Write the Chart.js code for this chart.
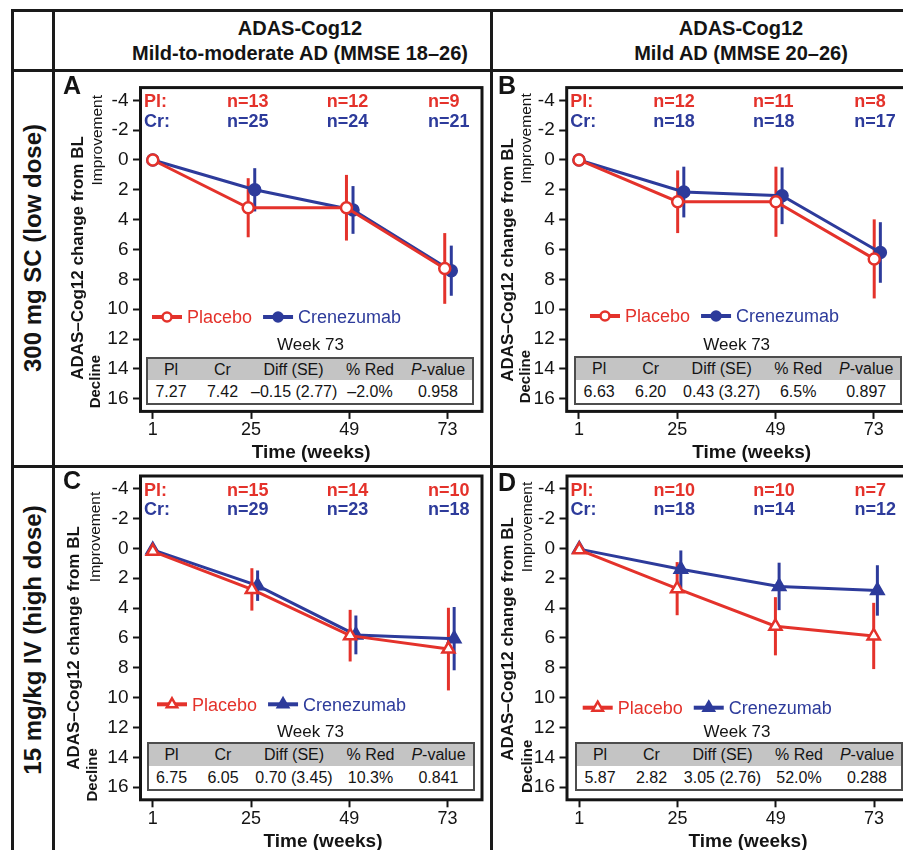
<!DOCTYPE html>
<html>
<head>
<meta charset="utf-8">
<script src="https://cdn.jsdelivr.net/npm/chart.js@4.4.1/dist/chart.umd.min.js"></script>
<style>
  html, body { margin: 0; padding: 0; background: #fff; }
  body { position: relative; width: 903px; height: 850px; overflow: hidden;
         font-family: "Liberation Sans", Arial, Helvetica, sans-serif; color: #141414; }
  .rule { position: absolute; background: #1a1a1a; }
  .hdr { position: absolute; top: 15.6px; width: 440px; text-align: center; font-weight: bold;
         font-size: 20px; line-height: 25px; white-space: nowrap; }
  .letter { position: absolute; font-weight: bold; font-size: 25px; line-height: 25px; }
  .rowlab { position: absolute; width: 400px; height: 24px; text-align: center; font-weight: bold;
            font-size: 24px; line-height: 24px; white-space: nowrap; transform: rotate(-90deg); }
  canvas { position: absolute; }
  .wk { position: absolute; width: 200px; text-align: center; font-size: 17px; line-height: 20px; }
  .stats { position: absolute; width: 324px; border: 2px solid #4d4d4d; font-size: 16px; background: #fff; }
  .stats div { display: flex; }
  .stats .head { background: #c4c4c4; height: 21.5px; line-height: 21.5px; }
  .stats .body { height: 23px; line-height: 23px; }
  .stats span { display: block; text-align: center; white-space: nowrap; }
</style>
</head>
<body>
<div class="rule" style="left:10.5px; top:9px; width:900px; height:3px"></div>
<div class="rule" style="left:10.5px; top:9px; width:3px; height:850px"></div>
<div class="rule" style="left:52px; top:9px; width:3px; height:850px"></div>
<div class="rule" style="left:489.5px; top:9px; width:3px; height:850px"></div>
<div class="rule" style="left:10.5px; top:68.5px; width:900px; height:3px"></div>
<div class="rule" style="left:10.5px; top:465.2px; width:900px; height:3px"></div>

<div class="hdr" style="left:80px">ADAS-Cog12<br>Mild-to-moderate AD (MMSE 18–26)</div>
<div class="hdr" style="left:521px">ADAS-Cog12<br>Mild AD (MMSE 20–26)</div>

<div class="rowlab" style="left:-166.6px; top:236px">300 mg SC (low dose)</div>
<div class="rowlab" style="left:-166.6px; top:628px">15 mg/kg IV (high dose)</div>

<script>
const RED = '#e4322b';
const BLUE = '#2d3b9b';
const INK = '#141414';
const FONT = '"Liberation Sans", Arial, Helvetica, sans-serif';

// visit weeks and axis ticks
const weeks = [1, 25, 49, 73];
const weekTicks = [1, 25, 49, 73];
const yTicks = [-4, -2, 0, 2, 4, 6, 8, 10, 12, 14, 16];

// A: 300 mg SC, mild-to-moderate AD
const placeboA = [0, 3.2, 3.2, 7.27];
const placeboSeA = [0, 1.98, 2.2, 2.37];
const crenezumabA = [0, 2.0, 3.35, 7.42];
const crenezumabSeA = [0, 1.45, 1.6, 1.68];
const nPlaceboA = [13, 12, 9];
const nCrenezumabA = [25, 24, 21];
const statsA = ['7.27', '7.42', '–0.15 (2.77)', '–2.0%', '0.958'];

// B: 300 mg SC, mild AD
const placeboB = [0, 2.8, 2.8, 6.63];
const placeboSeB = [0, 2.1, 2.35, 2.65];
const crenezumabB = [0, 2.15, 2.4, 6.20];
const crenezumabSeB = [0, 1.7, 1.9, 2.03];
const nPlaceboB = [12, 11, 8];
const nCrenezumabB = [18, 18, 17];
const statsB = ['6.63', '6.20', '0.43 (3.27)', '6.5%', '0.897'];

// C: 15 mg/kg IV, mild-to-moderate AD
const placeboC = [0.2, 2.75, 5.85, 6.75];
const placeboSeC = [0, 1.42, 1.73, 2.77];
const crenezumabC = [0.1, 2.5, 5.8, 6.05];
const crenezumabSeC = [0, 1.02, 1.3, 2.12];
const nPlaceboC = [15, 14, 10];
const nCrenezumabC = [29, 23, 18];
const statsC = ['6.75', '6.05', '0.70 (3.45)', '10.3%', '0.841'];

// D: 15 mg/kg IV, mild AD
const placeboD = [0.1, 2.7, 5.22, 5.87];
const placeboSeD = [0, 1.78, 1.95, 2.22];
const crenezumabD = [0.05, 1.4, 2.55, 2.82];
const crenezumabSeD = [0, 1.26, 1.59, 1.69];
const nPlaceboD = [10, 10, 7];
const nCrenezumabD = [18, 14, 12];
const statsD = ['5.87', '2.82', '3.05 (2.76)', '52.0%', '0.288'];

const statHeads = ['Pl', 'Cr', 'Diff (SE)', '% Red', '<i>P</i>-value'];
const statCols = [46, 57, 85, 68, 68];
const nShift = [-24, -22.5, -19.5];

const panels = [
  { letter: 'A', pl: placeboA, plSe: placeboSeA, cr: crenezumabA, crSe: crenezumabSeA,
    nPl: nPlaceboA, nCr: nCrenezumabA, stats: statsA, marker: 'circle',
    box: { l: 140.5, t: 87.6, r: 482, b: 411.4 }, dodge: [-0.7, 0.9], letterAt: [63, 94.3],
    titleX: -58, titleY: 170.4, impX: -38.5, impTop: 7.4, decX: -41, decBottom: -3.1,
    timeX: 170.7, legend: [11.5, 229.4], table: [5.5, 269], week: 263 },
  { letter: 'B', pl: placeboB, plSe: placeboSeB, cr: crenezumabB, crSe: crenezumabSeB,
    nPl: nPlaceboB, nCr: nCrenezumabB, stats: statsB, marker: 'circle',
    box: { l: 566.7, t: 87.6, r: 908.2, b: 411.4 }, dodge: [0.1, 1.6], letterAt: [498, 94],
    titleX: -53.5, titleY: 172.4, impX: -36, impTop: 5.7, decX: -37, decBottom: -8.1,
    timeX: 185, legend: [23.3, 228.4], table: [7.5, 268.5], week: 263.5 },
  { letter: 'C', pl: placeboC, plSe: placeboSeC, cr: crenezumabC, crSe: crenezumabSeC,
    nPl: nPlaceboC, nCr: nCrenezumabC, stats: statsC, marker: 'triangle',
    box: { l: 140.5, t: 476, r: 482, b: 799.8 }, dodge: [0.2, 1.6], letterAt: [63, 489],
    titleX: -62, titleY: 172, impX: -40.5, impTop: 15.7, decX: -44, decBottom: 1.7,
    timeX: 182.5, legend: [16.5, 228.3], table: [6, 266], week: 262 },
  { letter: 'D', pl: placeboD, plSe: placeboSeD, cr: crenezumabD, crSe: crenezumabSeD,
    nPl: nPlaceboD, nCr: nCrenezumabD, stats: statsD, marker: 'triangle',
    box: { l: 567, t: 476, r: 908.5, b: 799.8 }, dodge: [-0.1, 0.8], letterAt: [498, 491],
    titleX: -54, titleY: 163, impX: -35, impTop: 5.7, decX: -35, decBottom: -6.7,
    timeX: 181, legend: [15.7, 231.7], table: [8, 266], week: 262 }
];

// frame, error bars, n counts, axis titles and the in-plot legend
const panelDecor = {
  id: 'panelDecor',
  beforeDatasetsDraw(chart, args, o) {
    const { ctx, scales: { x, y } } = chart;
    ctx.save();
    ctx.lineWidth = 3;
    chart.data.datasets.forEach((ds, k) => {
      const se = o.se[k];
      ctx.strokeStyle = ds.borderColor;
      ds.data.forEach((pt, i) => {
        if (!se[i]) return;
        const px = x.getPixelForValue(pt.x);
        ctx.beginPath();
        ctx.moveTo(px, y.getPixelForValue(pt.y - se[i]));
        ctx.lineTo(px, y.getPixelForValue(pt.y + se[i]));
        ctx.stroke();
      });
    });
    ctx.restore();
  },
  afterDraw(chart, args, o) {
    const { ctx, chartArea: a, scales: { x } } = chart;
    ctx.save();
    ctx.lineWidth = 3;
    ctx.strokeStyle = INK;
    ctx.strokeRect(a.left, a.top, a.right - a.left, a.bottom - a.top);

    ctx.textBaseline = 'alphabetic';
    ctx.textAlign = 'left';
    ctx.font = `bold 18px ${FONT}`;
    [[o.nPl, 'Pl:', RED, 19.5], [o.nCr, 'Cr:', BLUE, 39]].forEach(([ns, tag, col, dy]) => {
      ctx.fillStyle = col;
      ctx.fillText(tag, a.left + 3.5, a.top + dy);
      ns.forEach((n, i) => ctx.fillText('n=' + n, x.getPixelForValue(weeks[i + 1]) + nShift[i], a.top + dy));
    });

    const rot = (str, px, py, align, font) => {
      ctx.save();
      ctx.translate(px, py);
      ctx.rotate(-Math.PI / 2);
      ctx.font = font;
      ctx.fillStyle = INK;
      ctx.textAlign = align;
      ctx.fillText(str, 0, 0);
      ctx.restore();
    };
    rot('ADAS–Cog12 change from BL', a.left + o.titleX, a.top + o.titleY, 'center', `bold 17px ${FONT}`);
    rot('Improvement', a.left + o.impX, a.top + o.impTop, 'right', `15.5px ${FONT}`);
    rot('Decline', a.left + o.decX, a.bottom + o.decBottom, 'left', `bold 15px ${FONT}`);

    ctx.fillStyle = INK;
    ctx.font = `bold 19px ${FONT}`;
    ctx.textAlign = 'center';
    ctx.fillText('Time (weeks)', a.left + o.timeX, a.bottom + 47);

    // legend
    const ly = a.top + o.legend[1];
    let lx = a.left + o.legend[0];
    ctx.textAlign = 'left';
    chart.data.datasets.forEach(ds => {
      ctx.strokeStyle = ds.borderColor;
      ctx.lineWidth = 4;
      ctx.beginPath();
      ctx.moveTo(lx, ly);
      ctx.lineTo(lx + 30, ly);
      ctx.stroke();
      ctx.fillStyle = ds.pointBackgroundColor;
      ctx.lineWidth = 2.5;
      Chart.helpers.drawPoint(ctx, { pointStyle: o.marker, rotation: 0, borderWidth: 2.5,
        radius: o.marker === 'circle' ? 4.5 : 6 }, lx + 15, ly);
      ctx.fillStyle = ds.borderColor;
      ctx.font = `18px ${FONT}`;
      ctx.fillText(ds.label, lx + 35, ly + 6.4);
      lx += 35 + ctx.measureText(ds.label).width + 11;
    });
    ctx.restore();
  }
};

const tickGrid = { drawOnChartArea: false, drawTicks: true, tickLength: 7.5, tickWidth: 2, tickColor: INK };

panels.forEach(p => {
  const ox = Math.floor(p.box.l - 90), oy = Math.floor(p.box.t - 20);
  const cw = Math.ceil(p.box.r + 10) - ox, ch = Math.ceil(p.box.b + 75) - oy;
  const cv = document.createElement('canvas');
  cv.width = cw;
  cv.height = ch;
  cv.style.left = ox + 'px';
  cv.style.top = oy + 'px';
  document.body.appendChild(cv);

  const series = (vals, k) => vals.map((v, i) => ({ x: i === 0 ? weeks[i] : weeks[i] + p.dodge[k], y: v }));

  new Chart(cv, {
    type: 'line',
    data: {
      datasets: [
        { label: 'Placebo', data: series(p.pl, 0), borderColor: RED, borderWidth: 3,
          pointStyle: p.marker, pointRadius: p.marker === 'circle' ? 5.5 : 7, pointBorderWidth: 2.5,
          pointBackgroundColor: '#fff', pointBorderColor: RED, tension: 0 },
        { label: 'Crenezumab', data: series(p.cr, 1), borderColor: BLUE, borderWidth: 3,
          pointStyle: p.marker, pointRadius: p.marker === 'circle' ? 5.5 : 7, pointBorderWidth: 2.5,
          pointBackgroundColor: BLUE, pointBorderColor: BLUE, tension: 0 }
      ]
    },
    options: {
      responsive: false,
      animation: false,
      events: [],
      layout: { padding: { left: 0, top: p.box.t - oy, right: ox + cw - p.box.r, bottom: oy + ch - p.box.b - 55 } },
      plugins: {
        legend: { display: false },
        tooltip: { enabled: false },
        panelDecor: { se: [p.plSe, p.crSe], nPl: p.nPl, nCr: p.nCr, marker: p.marker,
          titleX: p.titleX, titleY: p.titleY, impX: p.impX, impTop: p.impTop,
          decX: p.decX, decBottom: p.decBottom, timeX: p.timeX, legend: p.legend }
      },
      scales: {
        x: {
          type: 'linear', min: -2, max: 81.4,
          afterBuildTicks: s => { s.ticks = weekTicks.map(v => ({ value: v })); },
          afterFit: s => { s.height = 55; },
          grid: tickGrid,
          border: { display: false },
          ticks: { padding: 0.5, color: INK, font: { family: FONT, size: 18 }, maxRotation: 0, autoSkip: false }
        },
        y: {
          type: 'linear', reverse: true, min: -4.85, max: 16.85,
          afterBuildTicks: s => { s.ticks = yTicks.map(v => ({ value: v })); },
          afterFit: s => { s.width = p.box.l - ox; },
          grid: tickGrid,
          border: { display: false },
          ticks: { padding: 4.5, color: INK, font: { family: FONT, size: 19 }, callback: v => String(v) }
        }
      }
    },
    plugins: [panelDecor]
  });

  const letter = document.createElement('div');
  letter.className = 'letter';
  letter.textContent = p.letter;
  letter.style.left = p.letterAt[0] + 'px';
  letter.style.top = (p.letterAt[1] - 21.2) + 'px';
  document.body.appendChild(letter);

  const wk = document.createElement('div');
  wk.className = 'wk';
  wk.textContent = 'Week 73';
  wk.style.left = (p.box.l + 70) + 'px';
  wk.style.top = (p.box.t + p.week - 15.9) + 'px';
  document.body.appendChild(wk);

  const row = (cells, cls) => '<div class="' + cls + '">' +
    cells.map((c, i) => '<span style="width:' + statCols[i] + 'px">' + c + '</span>').join('') + '</div>';
  const tbl = document.createElement('div');
  tbl.className = 'stats';
  tbl.style.left = (p.box.l + p.table[0]) + 'px';
  tbl.style.top = (p.box.t + p.table[1]) + 'px';
  tbl.innerHTML = row(statHeads, 'head') + row(p.stats, 'body');
  document.body.appendChild(tbl);
});
</script>
</body>
</html>
